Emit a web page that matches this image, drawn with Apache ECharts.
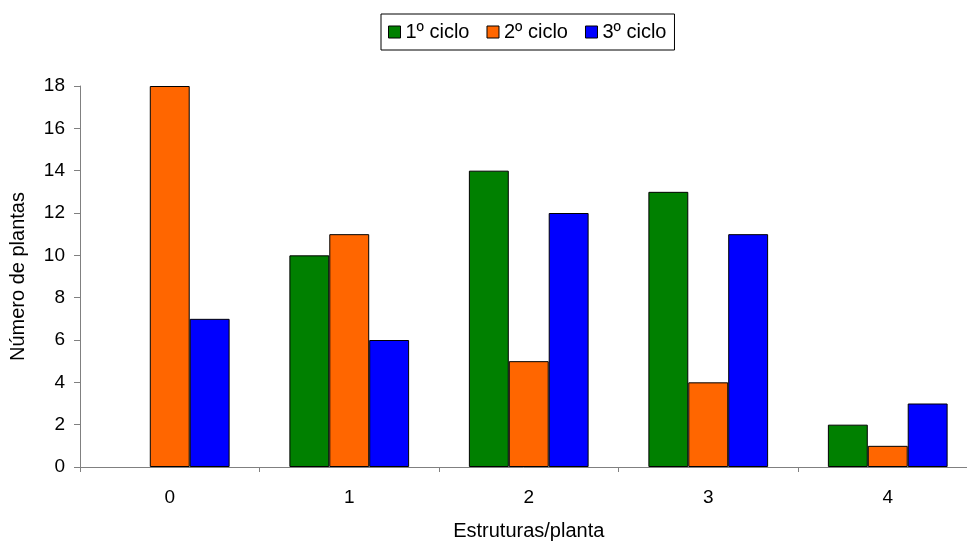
<!DOCTYPE html>
<html>
<head>
<meta charset="utf-8">
<script src="https://cdn.jsdelivr.net/npm/echarts@6/dist/echarts.min.js"></script>
<style>
  html, body { margin: 0; padding: 0; background: #fff; overflow: hidden; }
  #chart { width: 967px; height: 541px; }
</style>
</head>
<body>
<div id="chart"></div>
<script>
// Number of plants by structures per plant, for three cycles
// (null = no plants recorded, so no bar is drawn)
const categories = ['0', '1', '2', '3', '4'];
const ciclo1 = [null, 10, 14, 13, 2];
const ciclo2 = [18, 11, 5, 4, 1];
const ciclo3 = [7, 6, 12, 11, 3];
const seriesNames = ['1º ciclo', '2º ciclo', '3º ciclo'];
const colors = ['#008000', '#FF6600', '#0000FF'];

const FONT = '"Liberation Sans", Arial, sans-serif';
const chart = echarts.init(document.getElementById('chart'), null, { renderer: 'canvas' });

const axisLineStyle = { color: '#808080', width: 1 };

chart.setOption({
  animation: false,
  backgroundColor: '#ffffff',
  textStyle: { fontFamily: FONT, color: '#000' },
  legend: {
    data: seriesNames,
    left: 381,
    top: 14,
    orient: 'horizontal',
    padding: [8, 8, 8, 7],
    itemGap: 17,
    itemWidth: 12,
    itemHeight: 12,
    icon: 'rect',
    borderColor: '#000',
    borderWidth: 1,
    textStyle: { fontFamily: FONT, fontSize: 20, color: '#000' },
    itemStyle: { borderColor: '#000', borderWidth: 1 }
  },
  grid: {
    left: 80, top: 86, right: -10.5, bottom: 74,
    containLabel: false,
    outerBoundsMode: 'none'
  },
  xAxis: {
    type: 'category',
    data: categories,
    name: 'Estruturas/planta',
    nameLocation: 'middle',
    nameGap: 54,
    nameTextStyle: { fontFamily: FONT, fontSize: 20, color: '#000' },
    boundaryGap: true,
    axisLine: { show: true, lineStyle: axisLineStyle },
    axisTick: { show: true, length: 5, alignWithLabel: false, lineStyle: axisLineStyle },
    axisLabel: { fontFamily: FONT, fontSize: 19, color: '#000', margin: 21 },
    splitLine: { show: false }
  },
  yAxis: {
    type: 'value',
    min: 0,
    max: 18,
    interval: 2,
    name: 'Número de plantas',
    nameLocation: 'middle',
    nameGap: 52,
    nameRotate: 90,
    nameTextStyle: { fontFamily: FONT, fontSize: 20, color: '#000' },
    axisLine: { show: true, lineStyle: axisLineStyle },
    axisTick: { show: true, length: 6, lineStyle: axisLineStyle },
    axisLabel: { fontFamily: FONT, fontSize: 19, color: '#000', margin: 15 },
    splitLine: { show: false }
  },
  series: [ciclo1, ciclo2, ciclo3].map((values, i) => ({
    name: seriesNames[i],
    type: 'bar',
    data: values,
    barGap: '0%',
    barCategoryGap: '33.3%',
    itemStyle: { color: colors[i], borderColor: '#000', borderWidth: 1 }
  }))
});
</script>
</body>
</html>
